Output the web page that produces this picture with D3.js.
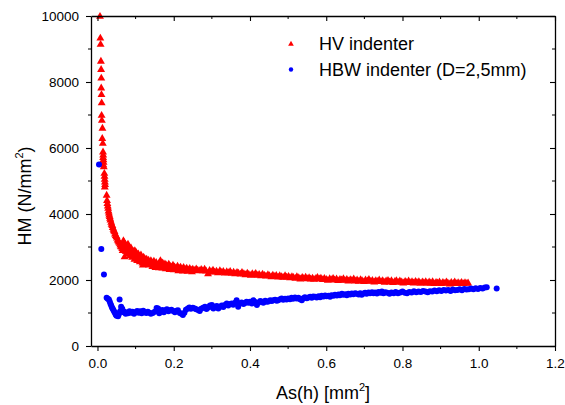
<!DOCTYPE html>
<html>
<head>
<meta charset="utf-8">
<script src="https://cdn.jsdelivr.net/npm/d3@7"></script>
<style>
body { margin: 0; background: #fff; }
text { font-family: "Liberation Sans", Arial, sans-serif; fill: #000; }
</style>
</head>
<body>
<div id="chart"></div>
<script>
var width = 565;
var height = 405;
var margin = {top: 16, right: 10, bottom: 59, left: 91};

// HV indenter (red triangles)
var hvAs = [0.0066,0.0075,0.0082,0.009,0.0095,0.010,0.0098,0.0105,0.011,0.0108,0.0115,0.013,0.0125,0.014,0.0145,0.015,0.0148,0.0155,0.016,0.0152,0.0165,0.018,0.0185,0.019,0.0195,0.020,0.0192,0.024,0.025,0.026,0.027,0.028,0.029,0.030,0.031,0.032,0.033,0.034,0.036,0.037,0.039,0.040,0.042,0.043,0.045,0.046,0.048,0.050,0.051,0.053,0.055,0.056,0.058,0.060,0.061,0.063,0.065,0.066,0.068,0.070,0.071,0.073,0.075,0.076,0.078,0.080,0.082,0.084,0.086,0.088,0.090,0.092,0.094,0.096,0.098,0.100,0.102,0.105,0.107,0.109,0.112,0.114,0.117,0.119,0.121,0.124,0.126,0.129,0.131,0.134,0.137,0.140,0.142,0.145,0.148,0.151,0.154,0.156,0.159,0.162,0.165,0.168,0.171,0.174,0.177,0.180,0.184,0.187,0.190,0.194,0.198,0.202,0.206,0.210,0.214,0.218,0.222,0.226,0.230,0.234,0.238,0.242,0.246,0.250,0.255,0.259,0.263,0.268,0.272,0.276,0.281,0.285,0.290,0.294,0.298,0.303,0.307,0.312,0.316,0.321,0.325,0.330,0.334,0.339,0.343,0.348,0.352,0.357,0.361,0.366,0.370,0.375,0.379,0.384,0.388,0.393,0.397,0.402,0.406,0.411,0.415,0.420,0.424,0.429,0.433,0.438,0.442,0.447,0.451,0.456,0.460,0.465,0.469,0.474,0.478,0.483,0.487,0.492,0.496,0.501,0.505,0.510,0.514,0.519,0.523,0.528,0.532,0.537,0.541,0.546,0.550,0.555,0.559,0.564,0.568,0.573,0.577,0.582,0.586,0.591,0.595,0.600,0.604,0.609,0.613,0.618,0.622,0.627,0.631,0.636,0.640,0.645,0.649,0.654,0.658,0.663,0.667,0.672,0.676,0.681,0.685,0.690,0.694,0.699,0.703,0.708,0.712,0.717,0.721,0.726,0.730,0.735,0.739,0.744,0.748,0.753,0.757,0.762,0.766,0.771,0.775,0.780,0.784,0.789,0.793,0.798,0.802,0.807,0.811,0.816,0.820,0.825,0.829,0.834,0.838,0.843,0.847,0.852,0.856,0.861,0.865,0.870,0.874,0.879,0.883,0.888,0.892,0.897,0.901,0.906,0.910,0.915,0.919,0.924,0.928,0.933,0.937,0.942,0.946,0.951,0.955,0.960,0.964,0.969,0.972,
	0.074,0.079,0.085,0.091,0.097,0.104,0.111,0.118,0.127,0.135,0.144,0.152,0.161,0.170,0.179,0.189,0.200,0.212,0.224,0.236,0.248];
var hvHM = [10000,9340,9150,8640,8390,8130,7830,7630,7380,7000,6850,6610,6300,6150,5890,5800,5720,5650,5580,5500,5440,5240,5150,5060,4980,4900,4830,4580,4420,4330,4250,4180,4100,4040,3980,3930,3880,3830,3760,3700,3660,3600,3550,3500,3470,3400,3360,3330,3280,3220,3190,3160,3120,3080,3030,3010,2960,2900,3200,3150,2710,3090,3020,2880,2960,3100,2920,3000,2850,2980,2900,2820,2880,2780,2900,2760,2840,2700,2800,2730,2650,2770,2600,2460,2700,2660,2580,2640,2550,2610,2520,2600,2560,2490,2580,2500,2540,2430,2410,2520,2600,2480,2530,2450,2500,2470,2420,2490,2440,2400,2460,2410,2380,2430,2370,2400,2350,2390,2330,2370,2320,2360,2310,2340,2300,2350,2310,2290,2330,2290,2340,2280,2200,2300,2260,2310,2250,2280,2230,2290,2240,2270,2220,2260,2230,2270,2210,2250,2200,2240,2220,2190,2240,2200,2170,2220,2180,2150,2200,2170,2210,2150,2180,2140,2190,2150,2130,2170,2140,2110,2160,2120,2150,2100,2140,2110,2090,2140,2100,2120,2080,2110,2090,2060,2110,2080,2040,2090,2060,2100,2050,2080,2040,2070,2030,2060,2090,2040,2070,2020,2060,2030,2000,2050,2020,2060,2010,2040,1990,2030,2010,2050,2000,2030,1980,2020,2000,2040,1980,2010,1970,2020,1990,1960,2010,1980,2030,1970,2000,1950,1990,1970,2010,1960,1990,1940,1980,2000,1950,1990,1930,1970,1990,1940,1980,1950,1920,1970,1940,1980,1930,1960,1920,1970,1940,1960,1910,1950,1930,1960,1910,1950,1920,1960,1900,1940,1920,1950,1900,1940,1910,1950,1920,1890,1940,1910,1950,1900,1930,1910,1940,1900,1930,1910,1920,
	2880,2810,2740,2700,2640,2600,2560,2520,2500,2460,2420,2390,2380,2370,2350,2330,2320,2290,2280,2270,2260];

// HBW indenter (blue dots)
var hbwAs = [0.004,0.010,0.017,0.024,0.027,0.030,0.032,0.034,0.036,0.038,0.040,0.042,0.044,0.046,0.048,0.050,0.052,0.054,0.056,0.058,0.060,0.062,0.065,0.068,0.071,0.074,0.077,0.080,0.084,0.088,0.092,0.096,0.100,0.104,0.108,0.112,0.116,0.120,0.124,0.128,0.132,0.136,0.140,0.145,0.150,0.155,0.159,0.162,0.166,0.170,0.174,0.178,0.182,0.186,0.190,0.194,0.198,0.203,0.207,0.211,0.216,0.220,0.224,0.228,0.232,0.237,0.241,0.245,0.250,0.255,0.259,0.264,0.268,0.272,0.277,0.282,0.286,0.291,0.295,0.300,0.304,0.308,0.313,0.317,0.321,0.326,0.330,0.334,0.339,0.343,0.348,0.352,0.356,0.361,0.365,0.369,0.374,0.378,0.383,0.387,0.391,0.396,0.400,0.405,0.409,0.414,0.418,0.422,0.427,0.431,0.435,0.440,0.444,0.448,0.453,0.457,0.461,0.466,0.470,0.474,0.479,0.483,0.487,0.492,0.496,0.500,0.505,0.509,0.513,0.518,0.522,0.527,0.531,0.536,0.540,0.544,0.549,0.553,0.558,0.562,0.566,0.571,0.575,0.580,0.584,0.588,0.593,0.597,0.601,0.606,0.610,0.614,0.619,0.623,0.628,0.632,0.636,0.641,0.645,0.650,0.654,0.658,0.663,0.667,0.671,0.676,0.680,0.685,0.689,0.693,0.698,0.702,0.706,0.711,0.715,0.720,0.724,0.728,0.733,0.737,0.742,0.746,0.750,0.755,0.760,0.766,0.771,0.777,0.782,0.788,0.794,0.800,0.806,0.812,0.818,0.824,0.830,0.836,0.842,0.848,0.854,0.860,0.866,0.872,0.878,0.884,0.890,0.896,0.902,0.908,0.914,0.920,0.926,0.932,0.938,0.944,0.950,0.956,0.962,0.968,0.974,0.980,0.986,0.992,0.998,1.004,1.010,1.016,1.021,1.047];
var hbwHM = [5500,2940,2170,1460,1430,1410,1350,1280,1230,1170,1130,1080,1040,1000,950,920,990,900,960,1410,1060,1190,1130,1020,1040,980,1000,990,1050,1010,1040,980,1020,1060,1010,1050,990,1070,1020,1000,1040,1010,980,1000,1040,1150,1140,990,1060,1090,1020,1080,1110,1050,1080,1100,1060,1020,1070,1080,1000,980,940,1010,1100,1140,1170,1130,1160,1140,1110,1090,1060,1130,1160,1190,1120,1170,1230,1240,1140,1190,1210,1140,1190,1230,1180,1240,1290,1230,1270,1290,1250,1310,1390,1190,1290,1320,1270,1300,1340,1310,1340,1290,1390,1330,1240,1310,1360,1340,1310,1370,1340,1350,1390,1360,1390,1400,1370,1390,1420,1440,1400,1430,1410,1440,1420,1460,1430,1470,1440,1460,1420,1390,1450,1480,1450,1470,1490,1460,1500,1490,1470,1510,1480,1520,1500,1530,1510,1520,1490,1540,1520,1550,1530,1560,1540,1580,1550,1570,1540,1580,1560,1590,1570,1600,1580,1560,1600,1550,1590,1610,1580,1620,1600,1630,1600,1620,1590,1640,1610,1650,1600,1630,1610,1580,1620,1600,1640,1600,1620,1650,1610,1600,1640,1620,1660,1630,1650,1640,1670,1650,1630,1660,1650,1680,1660,1690,1670,1700,1680,1700,1670,1710,1690,1700,1720,1690,1730,1710,1720,1740,1720,1750,1730,1760,1740,1770,1780,1740];

var xTicks = [0, 0.2, 0.4, 0.6, 0.8, 1.0, 1.2];
var xMinor = [0.1, 0.3, 0.5, 0.7, 0.9, 1.1];
var yTicks = [0, 2000, 4000, 6000, 8000, 10000];
var yMinor = [1000, 3000, 5000, 7000, 9000];
var legendLabels = ['HV indenter', 'HBW indenter (D=2,5mm)'];

var svg = d3.select('#chart')
	.append('svg')
	.attr('width', width)
	.attr('height', height);

var x = d3.scaleLinear()
	.domain([-0.017, 1.2])
	.range([margin.left, width - margin.right]);

var y = d3.scaleLinear()
	.domain([0, 10000])
	.range([height - margin.bottom, margin.top]);

var plotLeft = margin.left;
var plotRight = width - margin.right;
var plotTop = margin.top;
var plotBottom = height - margin.bottom;

// data
var triangle = d3.symbol().type(d3.symbolTriangle).size(27);

svg.append('g')
	.selectAll('path')
	.data(hvAs)
	.enter()
	.append('path')
	.attr('d', triangle)
	.attr('transform', function(d, i){ return 'translate(' + x(d) + ',' + (y(hvHM[i]) + 0.5) + ')'; })
	.attr('fill', '#ff0000');

svg.append('g')
	.selectAll('circle')
	.data(hbwAs)
	.enter()
	.append('circle')
	.attr('cx', function(d){ return x(d); })
	.attr('cy', function(d, i){ return y(hbwHM[i]); })
	.attr('r', 3)
	.attr('fill', '#0000ff');

// axes
var bottomAxis = svg.append('g')
	.attr('transform', 'translate(0,' + plotBottom + ')')
	.call(d3.axisBottom(x).tickValues(xTicks).tickFormat(d3.format('.1f')).tickSize(5).tickSizeOuter(0));
bottomAxis.selectAll('text').attr('dy', '1.05em');
bottomAxis.selectAll('line.minor')
	.data(xMinor)
	.enter()
	.append('line')
	.attr('x1', function(d){ return x(d); })
	.attr('x2', function(d){ return x(d); })
	.attr('y1', 0)
	.attr('y2', 3)
	.attr('stroke', '#000');

var leftAxis = svg.append('g')
	.attr('transform', 'translate(' + plotLeft + ',0)')
	.call(d3.axisLeft(y).tickValues(yTicks).tickFormat(d3.format('d')).tickSize(5).tickSizeOuter(0));
leftAxis.selectAll('text').attr('x', -12);
leftAxis.selectAll('line.minor')
	.data(yMinor)
	.enter()
	.append('line')
	.attr('x1', 0)
	.attr('x2', -3)
	.attr('y1', function(d){ return y(d); })
	.attr('y2', function(d){ return y(d); })
	.attr('stroke', '#000');

var topAxis = svg.append('g')
	.attr('transform', 'translate(0,' + plotTop + ')')
	.call(d3.axisTop(x).tickValues(xTicks).tickFormat('').tickSize(-5).tickSizeOuter(0));
topAxis.selectAll('line.minor')
	.data(xMinor)
	.enter()
	.append('line')
	.attr('x1', function(d){ return x(d); })
	.attr('x2', function(d){ return x(d); })
	.attr('y1', 0)
	.attr('y2', 3)
	.attr('stroke', '#000');

var rightAxis = svg.append('g')
	.attr('transform', 'translate(' + plotRight + ',0)')
	.call(d3.axisRight(y).tickValues(yTicks).tickFormat('').tickSize(-5).tickSizeOuter(0));
rightAxis.selectAll('line.minor')
	.data(yMinor)
	.enter()
	.append('line')
	.attr('x1', 0)
	.attr('x2', -3)
	.attr('y1', function(d){ return y(d); })
	.attr('y2', function(d){ return y(d); })
	.attr('stroke', '#000');

svg.selectAll('.domain').attr('stroke', '#000').attr('stroke-width', 1.3);
svg.selectAll('.tick line').attr('stroke-width', 1.1);
svg.selectAll('.tick text')
	.style('font-family', '"Liberation Sans", Arial, sans-serif')
	.style('font-size', '13.5px')
	.attr('fill', '#000');

// axis titles
var xTitle = svg.append('text')
	.attr('x', (plotLeft + plotRight) / 2)
	.attr('y', 399)
	.attr('text-anchor', 'middle')
	.style('font-size', '18px');
xTitle.append('tspan').text('As(h) [mm');
xTitle.append('tspan').attr('dy', -8).style('font-size', '11px').text('2');
xTitle.append('tspan').attr('dy', 8).text(']');

var yTitle = svg.append('text')
	.attr('transform', 'translate(31,196) rotate(-90)')
	.attr('text-anchor', 'middle')
	.style('font-size', '18px');
yTitle.append('tspan').text('HM (N/mm');
yTitle.append('tspan').attr('dy', -8).style('font-size', '11px').text('2');
yTitle.append('tspan').attr('dy', 8).text(')');

// legend
var legend = svg.append('g');
legend.append('path')
	.attr('d', d3.symbol().type(d3.symbolTriangle).size(14))
	.attr('transform', 'translate(291,44)')
	.attr('fill', '#ff0000');
legend.append('circle')
	.attr('cx', 291)
	.attr('cy', 69.5)
	.attr('r', 2.2)
	.attr('fill', '#0000ff');
legend.selectAll('text')
	.data(legendLabels)
	.enter()
	.append('text')
	.attr('x', 319)
	.attr('y', function(d, i){ return 50 + i * 26; })
	.style('font-size', '18px')
	.text(function(d){ return d; });
</script>
</body>
</html>
